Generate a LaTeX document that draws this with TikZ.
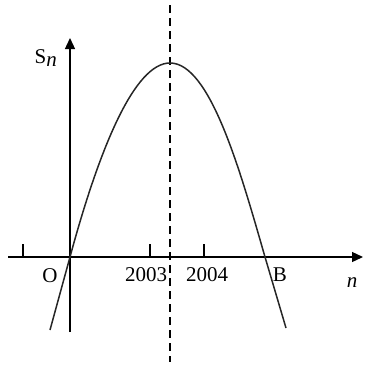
\documentclass[tikz,border=0pt]{standalone}
\usepackage{fontspec}
\setmainfont{Liberation Serif}
\usetikzlibrary{arrows.meta}
\tikzset{
  lbl/.style={anchor=base, inner sep=0pt, font=\fontsize{21}{25}\selectfont},
  axisline/.style={line width=1.3pt, -{Triangle[length=11pt,width=10pt]}},
  tickline/.style={line width=1.1pt},
  curveline/.style={line width=1.5pt, black!85},
  symline/.style={line width=1.2pt, dash pattern=on 8pt off 5pt},
}

\begin{document}
\begin{tikzpicture}[x=1pt,y=-1pt]
\useasboundingbox (0,0) rectangle (366,367);
\coordinate (xstart) at (8,257);
\coordinate (xend) at (363,257);
\coordinate (ystart) at (70,332);
\coordinate (yend) at (70,38);
\coordinate (symtop) at (170,5);
\coordinate (symbot) at (170,362);
\coordinate (leftend) at (50,330);
\coordinate (origpt) at (70,257);
\coordinate (vertex) at (170,63);
\coordinate (bcross) at (265,257);
\coordinate (rightend) at (286,328);
\draw[axisline] (xstart) -- (xend);
\draw[axisline] (ystart) -- (yend);
\draw[symline] (symtop) -- (symbot);
\foreach \t in {23,150,204} \draw[tickline] (\t,257) -- (\t,244);
% the parabola, a bit lopsided as in the sketch
\draw[curveline] (leftend) -- (origpt)
  .. controls (100,146) and (135,63) .. (vertex)
  .. controls (210,63) and (240,170) .. (bcross) -- (rightend);
\node[lbl] (sn) at (46,63) {S$_{\textit{n}}$};
\node[lbl] (orig) at (50,282) {O};
\node[lbl] (y2003) at (146,281) {2003};
\node[lbl] (y2004) at (207,281) {2004};
\node[lbl] (bpt) at (280,281) {B};
\node[lbl] (nlbl) at (352,287) {\textit{n}};
\end{tikzpicture}
\end{document}
